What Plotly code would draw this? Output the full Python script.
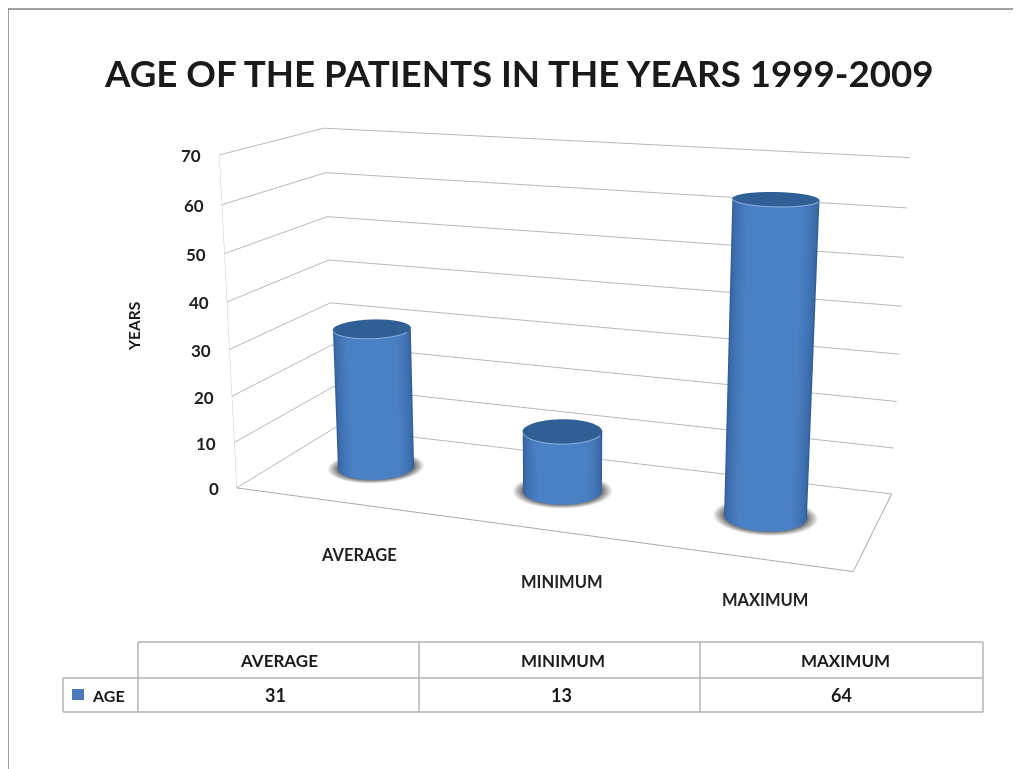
import numpy as np
import plotly.graph_objects as go

categories = ["AVERAGE", "MINIMUM", "MAXIMUM"]
age_values = [31, 13, 64]
z_ticks = [0, 10, 20, 30, 40, 50, 60, 70]
series_name = "AGE"
chart_title = "AGE OF THE PATIENTS IN THE YEARS 1999-2009"
axis_title = "YEARS"

W = 1021
VISIBLE_ORIGIN = 8          # default page margin in front of the plot div
# camera solved from the wall and floor corners of the reference
ax_, ay_ = 1.8455, 0.6218
ex, ey, ez = 1.5775, -4.2985, 1.1755
f, px0, py0 = 1631.5, 562.5, 328.0
H = int(round(2 * f * np.tan(np.pi / 8)))
DIV_TOP = py0 - H / 2       # page y of the plot div's top edge
LIFT = VISIBLE_ORIGIN - DIV_TOP

def px(x): return (x - VISIBLE_ORIGIN) / W
def py(y): return 1 - (y - DIV_TOP) / H

fig = go.Figure()
theta = np.linspace(0, 2 * np.pi, 97)
Rx, Ry = 0.19, 0.19
flat = dict(ambient=1, diffuse=0, specular=0, fresnel=0)
blue_scale = [[0, "#2b5488"], [0.35, "#3a6aa8"], [0.8, "#4a80c4"], [1, "#4a80c4"]]
for i, v in enumerate(age_values):
    xw = ((i + .5) / 3 - .5) * ax_
    yw = 0.0
    rr = np.linspace(0, 1.28, 10)
    X = i + Rx * np.outer(rr, np.cos(theta))
    Y = 0.5 + Ry * np.outer(rr, np.sin(theta))
    fig.add_trace(go.Surface(x=X, y=Y, z=np.full_like(X, 0.05), surfacecolor=np.outer(rr, np.ones_like(theta)),
                             colorscale=[[0, "#666666"], [0.78, "#707070"], [1, "#ffffff"]], showscale=False,
                             lighting=flat, hoverinfo="skip"))
    X = i + Rx * np.outer(np.cos(theta), [1, 1])
    Y = 0.5 + Ry * np.outer(np.sin(theta), [1, 1])
    Z = np.outer(np.ones_like(theta), [0, v])
    nx, ny = np.cos(theta) / (Rx * ax_ / 3), np.sin(theta) / (Ry * ay_)
    nn = np.hypot(nx, ny)
    vx, vy = ex - xw, ey - yw
    vn = np.hypot(vx, vy)
    C = (nx * vx + ny * vy) / nn / vn
    fig.add_trace(go.Surface(x=X, y=Y, z=Z, surfacecolor=np.outer(C, [1, 1]), colorscale=blue_scale, showscale=False,
                             cmin=0, cmax=1, lighting=flat, hoverinfo="skip"))
    rr = np.array([0, 1.0])
    X = i + Rx * np.outer(rr, np.cos(theta))
    Y = 0.5 + Ry * np.outer(rr, np.sin(theta))
    fig.add_trace(go.Surface(x=X, y=Y, z=np.full_like(X, v), surfacecolor=np.zeros_like(X),
                             colorscale=[[0, "#2f5f94"], [1, "#2f5f94"]], showscale=False, lighting=flat, hoverinfo="skip"))
    fig.add_trace(go.Scatter3d(x=i + Rx * np.cos(theta[48:]), y=0.5 + Ry * np.sin(theta[48:]), z=np.full(49, v), mode="lines",
                               line=dict(color="#8db3e2", width=2), hoverinfo="skip"))

font = "Lato"
label_dx = [31, 38, 27]
label_dy = [-55, -55, -44]
annots3d = [dict(x=-0.5, y=0, z=t, text=f"<b>{t}</b>", showarrow=False, xanchor="right", xshift=-16, yshift=-1,
                 font=dict(family=font, size=17, color="#222222")) for t in z_ticks]
annots3d += [dict(x=i, y=0, z=0, text=f"<b>{c}</b>", showarrow=False, xshift=label_dx[i], yshift=label_dy[i],
                  font=dict(family=font, size=16.5, color="#222222")) for i, c in enumerate(categories)]

hw = min(px0 - VISIBLE_ORIGIN, W + VISIBLE_ORIGIN - px0)
axis_common = dict(showgrid=False, showticklabels=False, title="", showbackground=False, zeroline=False, showspikes=False,
                   showline=True, linecolor="#aaaaaa", linewidth=2)
fig.update_layout(
    width=W, height=H, margin=dict(l=0, r=0, t=0, b=0), paper_bgcolor="white", showlegend=False,
    scene=dict(
        domain=dict(x=[px(px0 - hw), px(px0 + hw)], y=[0, 1]),
        aspectmode="manual", aspectratio=dict(x=ax_, y=ay_, z=1),
        camera=dict(eye=dict(x=ex, y=ey, z=ez), center=dict(x=0, y=0, z=0), up=dict(x=0, y=0, z=1),
                    projection=dict(type="perspective")),
        xaxis=dict(range=[-0.5, 2.5], **axis_common),
        yaxis=dict(range=[0, 1], **axis_common),
        zaxis=dict(range=[0, 70], tickvals=z_ticks, showgrid=True, gridcolor="#b8b8b8", gridwidth=2, showticklabels=False,
                   title="", showbackground=False, zeroline=False, showspikes=False, showline=True, linecolor="#cccccc"),
        annotations=annots3d,
    ),
)

def note(x, y, text, size, angle=0, color="#1a1a1a"):
    fig.add_annotation(x=px(x), y=py(y), xref="paper", yref="paper", text=text, showarrow=False, textangle=angle,
                       xanchor="center", yanchor="middle", font=dict(family=font, size=size, color=color))

note(519, 73, f"<b>{chart_title}</b>", 36.7)
note(134, 327, f"<b>{axis_title}</b>", 15.5, angle=-90)

def seg(a, b, c, d, color="#b4b4b4", width=1.5):
    return dict(type="line", xref="paper", yref="paper", x0=px(a), y0=py(b), x1=px(c), y1=py(d), line=dict(color=color, width=width))

shapes = [seg(8, 9, 1014, 9, "#444444", 1), seg(8, 9, 8, 769, "#444444", 1), seg(1014, 9, 1014, 769, "#444444", 1)]
cols = [138, 419, 700, 983]
shapes += [seg(x_, 642, x_, 712) for x_ in cols]
shapes += [seg(138, 642, 983, 642), seg(63, 678, 983, 678), seg(63, 712, 983, 712), seg(63, 678, 63, 712)]
shapes.append(dict(type="rect", xref="paper", yref="paper", x0=px(72), y0=py(689), x1=px(84), y1=py(700), fillcolor="#4f79bd", line=dict(width=0)))
fig.update_layout(shapes=shapes)
header_x = [279, 563, 845]
value_x = [275, 561, 841]
for i, (c, v) in enumerate(zip(categories, age_values)):
    note(header_x[i], 661, f"<b>{c}</b>", 17)
    note(value_x[i], 695, f"<b>{v}</b>", 18)
note(108, 695, f"<b>{series_name}</b>", 16)

fig.write_html("out.html", post_script=f"document.querySelector('.plotly-graph-div').style.marginTop='{-LIFT}px';")
